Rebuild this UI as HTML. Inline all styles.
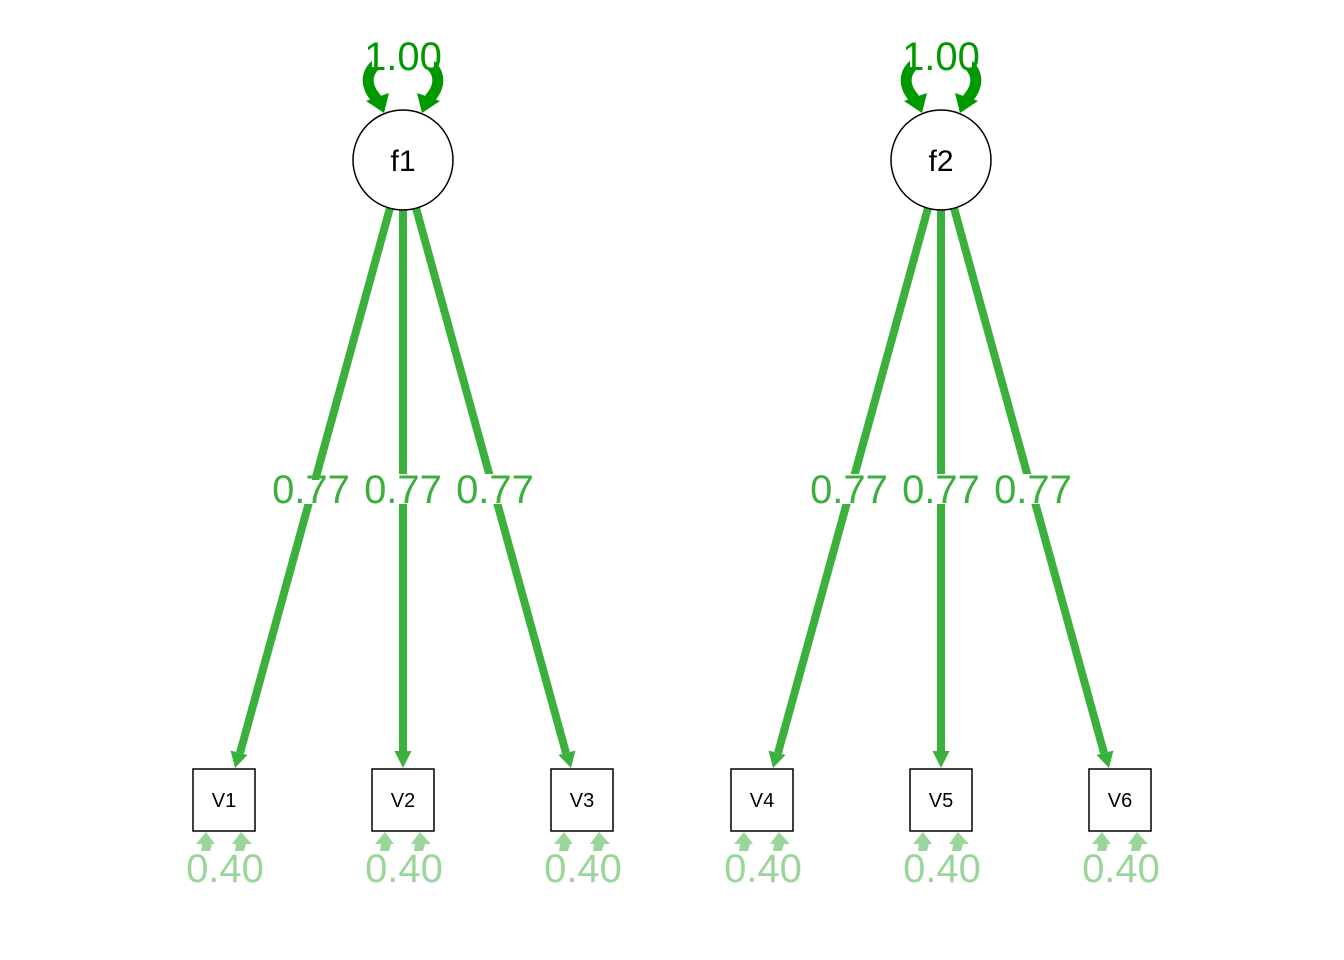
<!DOCTYPE html>
<html><head><style>html,body{margin:0;padding:0;background:#fff}svg{display:block}</style></head>
<body>
<svg width="1344" height="960" viewBox="0 0 1344 960" xmlns="http://www.w3.org/2000/svg" font-family="Liberation Sans, sans-serif">
<defs>
<g id="fac">
<g stroke="#3cb03c" stroke-width="8" fill="none">
<line x1="390" y1="208" x2="240" y2="753"/>
<line x1="403" y1="210" x2="403" y2="753"/>
<line x1="416" y1="208" x2="566" y2="753"/>
</g>
<g fill="#3cb03c">
<polygon points="235,768 247.5,755 230.5,750.5"/>
<polygon points="403,768 411.5,751 394.5,751"/>
<polygon points="571,768 558.5,755 575.5,750.5"/>
</g>
<g stroke="#009900" stroke-width="11" fill="none">
<path d="M377,99 C362,84 366,64 390,58"/>
<path d="M429,99 C444,84 440,64 416,58"/>
</g>
<g fill="#009900">
<polygon points="384,113 366,101 389,93"/>
<polygon points="422,113 440,101 417,93"/>
</g>
<circle cx="403" cy="160" r="50" fill="#fff" stroke="#000" stroke-width="1.5"/>
<rect x="372" y="40" width="62" height="30" fill="#fff"/>
<text x="403" y="70" font-size="40" fill="#009900" text-anchor="middle">1.00</text>
</g>
<g id="ra">
<polygon points="206,832 196,844 202,844 201,851 210,851 212,844 215,844"/>
<polygon points="241,832 232,844 236,844 235,851 244,851 246,844 252,844"/>
</g>
</defs>
<use href="#fac"/>
<use href="#fac" transform="translate(538,0)"/>
<text x="403" y="171" font-size="30" text-anchor="middle">f1</text>
<text x="941" y="171" font-size="30" text-anchor="middle">f2</text>
<g fill="#fff">
<rect x="290" y="474" width="22" height="30"/><rect x="312" y="480" width="16" height="24"/>
<rect x="385" y="474" width="36" height="30"/>
<rect x="478" y="474" width="36" height="30"/>
<rect x="828" y="474" width="36" height="30"/>
<rect x="923" y="474" width="36" height="30"/>
<rect x="1016" y="474" width="36" height="30"/>
</g>
<g font-size="40" fill="#3cb03c" text-anchor="middle">
<text x="311" y="503">0.77</text><text x="403" y="503">0.77</text><text x="495" y="503">0.77</text>
<text x="849" y="503">0.77</text><text x="941" y="503">0.77</text><text x="1033" y="503">0.77</text>
</g>
<g font-size="20" text-anchor="middle">
<g stroke="#000" stroke-width="1.5" fill="#fff">
<rect x="193" y="769" width="62" height="62"/><rect x="372" y="769" width="62" height="62"/><rect x="551" y="769" width="62" height="62"/>
<rect x="731" y="769" width="62" height="62"/><rect x="910" y="769" width="62" height="62"/><rect x="1089" y="769" width="62" height="62"/>
</g>
<text x="224" y="807">V1</text><text x="403" y="807">V2</text><text x="582" y="807">V3</text>
<text x="762" y="807">V4</text><text x="941" y="807">V5</text><text x="1120" y="807">V6</text>
</g>
<g fill="#9ad69a">
<use href="#ra"/>
<use href="#ra" transform="translate(179,0)"/><use href="#ra" transform="translate(358,0)"/>
<use href="#ra" transform="translate(538,0)"/><use href="#ra" transform="translate(717,0)"/><use href="#ra" transform="translate(896,0)"/>
</g>
<g font-size="40" fill="#9ad69a" text-anchor="middle">
<text x="225" y="882">0.40</text><text x="404" y="882">0.40</text><text x="583" y="882">0.40</text>
<text x="763" y="882">0.40</text><text x="942" y="882">0.40</text><text x="1121" y="882">0.40</text>
</g>
</svg>
</body></html>
